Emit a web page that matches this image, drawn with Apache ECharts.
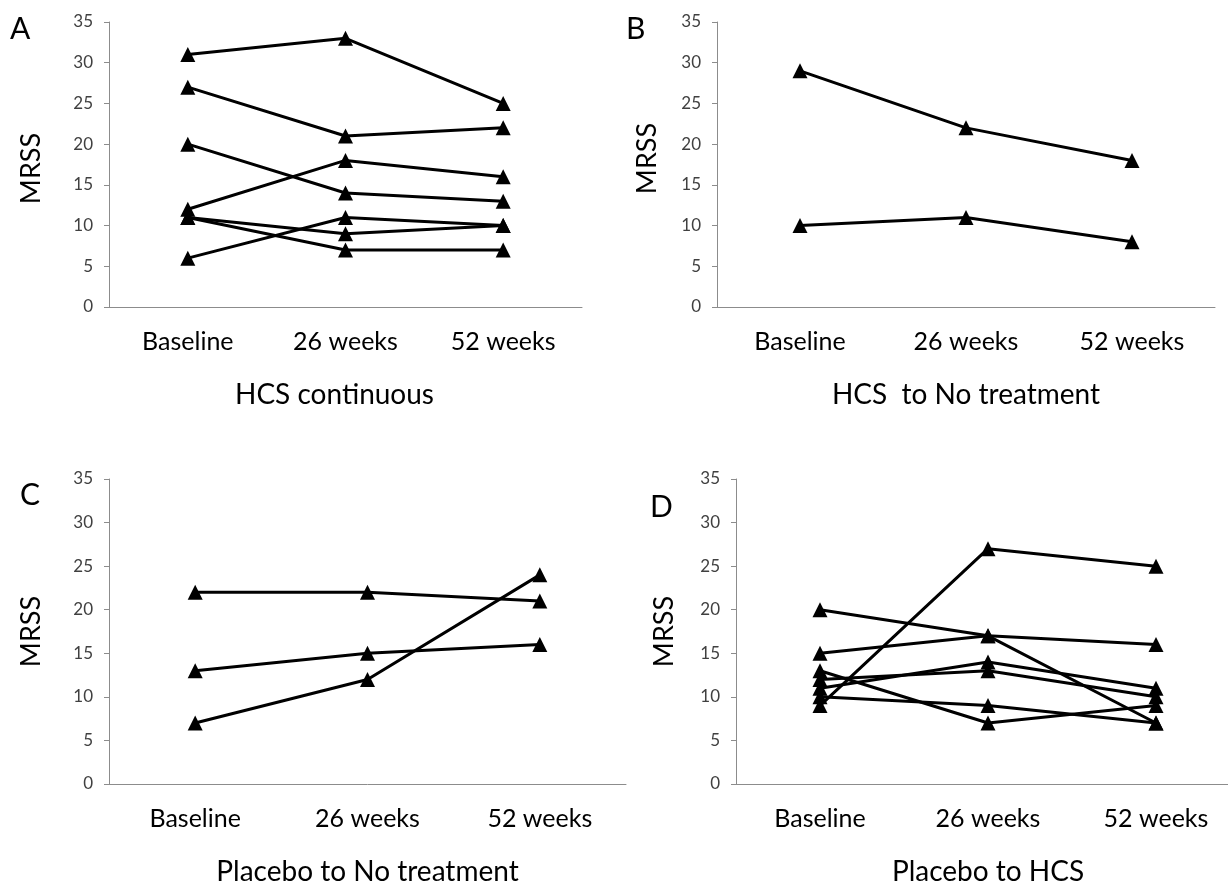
<!DOCTYPE html>
<html><head><meta charset="utf-8">
<script src="https://cdn.jsdelivr.net/npm/echarts@6/dist/echarts.min.js"></script>
<style>html,body{margin:0;padding:0;background:#fff}#c{width:1228px;height:886px}</style>
</head><body><div id="c"></div>
<script>
const categories = ['Baseline', '26 weeks', '52 weeks'];
const yTicks = [0, 5, 10, 15, 20, 25, 30, 35];
const panelLetters = ['A', 'B', 'C', 'D'];
const panelTitles = ['HCS continuous', 'HCS  to No treatment', 'Placebo to No treatment', 'Placebo to HCS'];
const yName = 'MRSS';
// One row per patient: [Baseline, 26 weeks, 52 weeks]
const panelA = [[31,33,25],[27,21,22],[20,14,13],[12,18,16],[11,9,10],[11,7,7],[6,11,10]];
const panelB = [[29,22,18],[10,11,8]];
const panelC = [[22,22,21],[13,15,16],[7,12,24]];
const panelD = [[9,27,25],[20,17,7],[15,17,16],[13,7,9],[11,14,11],[12,13,10],[10,9,7]];
const panels = [panelA, panelB, panelC, panelD];

const font = 'Lato, "Open Sans", sans-serif';
const grids = [
  {left:109, width:473, top:22, height:285, outerBoundsMode:'none', containLabel:false},
  {left:717, width:498, top:22, height:285, outerBoundsMode:'none', containLabel:false},
  {left:109, width:517, top:479, height:305, outerBoundsMode:'none', containLabel:false},
  {left:736, width:504, top:479, height:305, outerBoundsMode:'none', containLabel:false}
];
const yNameGap = [64, 56, 64, 58];
const yNamePad = [[0,8,0,0],[0,0,0,12],[0,0,0,0],[0,0,0,0]];
const letterPos = [[10,14],[626,14],[20,480],[650,492]];
const titlePad = [[0,22,0,0],[0,0,0,0],[0,0,0,0],[0,0,0,0]];

const option = {
  animation:false,
  backgroundColor:'#fff',
  title: panelLetters.map((t,i)=>({text:t, left:letterPos[i][0], top:letterPos[i][1], padding:0,
    textStyle:{fontFamily:font, fontSize:30, fontWeight:'normal', color:'#000'}})),
  grid: grids,
  xAxis: grids.map((g,i)=>({
    type:'category', gridIndex:i, data:categories, boundaryGap:true,
    name: panelTitles[i], nameLocation:'middle', nameGap:74,
    nameTextStyle:{fontFamily:font, fontSize:28, color:'#000', padding:titlePad[i]},
    axisLine:{lineStyle:{color:'#8c8c8c', width:1}},
    axisTick:{show:false},
    axisLabel:{fontFamily:font, fontSize:25, color:'#000', margin:22},
    splitLine:{show:false}
  })),
  yAxis: grids.map((g,i)=>({
    type:'value', gridIndex:i, min:0, max:35, interval:5,
    name: yName, nameLocation:'middle', nameGap: yNameGap[i],
    nameTextStyle:{fontFamily:font, fontSize:27, color:'#000', padding:yNamePad[i]},
    axisLine:{show:true, lineStyle:{color:'#8c8c8c', width:1}},
    axisTick:{show:true, length:5, lineStyle:{color:'#8c8c8c'}},
    axisLabel:{fontFamily:font, fontSize:17, color:'#404040', margin:16,
      formatter:(v)=> yTicks.includes(v) ? String(v) : ''},
    splitLine:{show:false}
  })),
  series: []
};
panels.forEach((rows, p)=>{
  rows.forEach(r=>{
    option.series.push({
      type:'line', xAxisIndex:p, yAxisIndex:p, data:r,
      symbol:'triangle', symbolSize:15, showAllSymbol:true,
      lineStyle:{color:'#000', width:3},
      itemStyle:{color:'#000'},
      z:2
    });
  });
});
const chart = echarts.init(document.getElementById('c'), null, {renderer:'canvas'});
chart.setOption(option);
</script></body></html>
